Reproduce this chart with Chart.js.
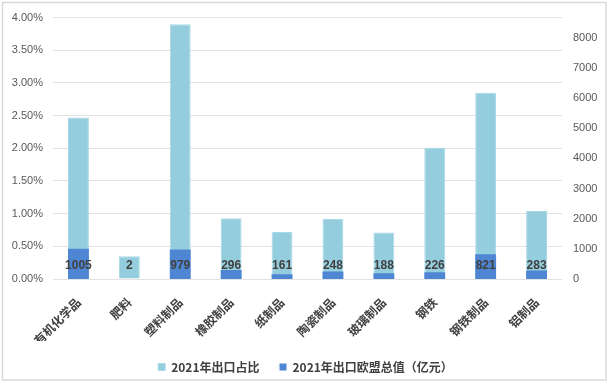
<!DOCTYPE html>
<html>
<head>
<meta charset="utf-8">
<script src="https://cdn.jsdelivr.net/npm/chart.js@4.4.0/dist/chart.umd.min.js"></script>
<style>
  body{margin:0;background:#fff}
  #wrap{width:611px;height:384px}
</style>
</head>
<body>
<div id="wrap"><canvas id="grafico" width="611" height="384"></canvas></div>
<script>
const categorias = ["有机化学品","肥料","塑料制品","橡胶制品","纸制品","陶瓷制品","玻璃制品","钢铁","钢铁制品","铝制品"];
const participacao = [2.47,0.35,3.90,0.93,0.72,0.92,0.71,2.01,2.85,1.04]; // 2021年出口占比 (%)
const valorUE = [1005,2,979,296,161,248,188,226,821,283]; // 2021年出口欧盟总值（亿元）
const ticksEsquerda = [0,0.5,1,1.5,2,2.5,3,3.5,4];
const ticksDireita = [0,1000,2000,3000,4000,5000,6000,7000,8000];
const nomeParticipacao = "2021年出口占比";
const nomeValor = "2021年出口欧盟总值（亿元）";

const CJK = "'Noto Sans CJK SC', 'Noto Sans', sans-serif";
const NUM = "'Liberation Sans', Arial, sans-serif";

// moldura cinza em volta do gráfico
const moldura = {
  id: "moldura",
  beforeDraw(chart){
    const c = chart.ctx;
    c.save();
    c.fillStyle = "#fff";
    c.fillRect(0,0,chart.width,chart.height);
    c.strokeStyle = "#d9d9d9";
    c.lineWidth = 1.5;
    c.strokeRect(2.5,2.5,603.5,377.5);
    c.restore();
  }
};

// rótulos dos valores na base das barras escuras
const rotulos = {
  id: "rotulos",
  afterDatasetsDraw(chart){
    const c = chart.ctx;
    const meta = chart.getDatasetMeta(0);
    const base = chart.scales.y2.getPixelForValue(0);
    c.save();
    c.font = "bold 12px " + NUM;
    c.fillStyle = "#404040";
    c.textAlign = "center";
    c.textBaseline = "middle";
    meta.data.forEach((el,i)=>{
      c.fillText(String(valorUE[i]), el.x, base - 13);
    });
    c.restore();
  }
};

new Chart(document.getElementById("grafico"),{
  type:"bar",
  data:{
    labels:categorias,
    datasets:[
      {label:nomeValor,data:valorUE,yAxisID:"y2",backgroundColor:"#4f86d3",grouped:false,barPercentage:0.41,categoryPercentage:1},
      {label:nomeParticipacao,data:participacao,yAxisID:"y",backgroundColor:"#94cddd",borderColor:"#a9d8e6",borderWidth:1,grouped:false,barPercentage:0.41,categoryPercentage:1}
    ]
  },
  options:{
    responsive:false,
    animation:false,
    layout:{padding:{left:8,right:8,top:12,bottom:1}},
    plugins:{
      tooltip:{enabled:false},
      legend:{
        position:"bottom",
        reverse:true,
        labels:{boxWidth:7,boxHeight:7,padding:20,color:"#404040",font:{family:CJK,size:12,weight:"bold"}}
      }
    },
    scales:{
      x:{
        grid:{display:false},
        border:{display:false},
        ticks:{color:"#404040",font:{family:CJK,size:12,weight:"bold"},minRotation:45,maxRotation:45,padding:8},
        afterFit:s=>{s.height=62;}
      },
      y:{
        position:"left",min:0,max:4,
        grid:{color:"#e3e3e3",drawTicks:false},
        border:{display:false},
        ticks:{padding:10,color:"#595959",font:{family:NUM,size:11},callback:v=>v.toFixed(2)+"%"},
        afterBuildTicks:s=>{s.ticks=ticksEsquerda.map(v=>({value:v}));},
        afterFit:s=>{s.width=45;}
      },
      y2:{
        position:"right",min:0,max:8670,
        grid:{display:false,drawTicks:false},
        border:{display:false},
        ticks:{padding:11,color:"#595959",font:{family:NUM,size:11},autoSkip:false,callback:v=>String(v)},
        afterBuildTicks:s=>{s.ticks=ticksDireita.map(v=>({value:v}));},
        afterFit:s=>{s.width=41;}
      }
    }
  },
  plugins:[moldura,rotulos]
});
</script>
</body>
</html>
